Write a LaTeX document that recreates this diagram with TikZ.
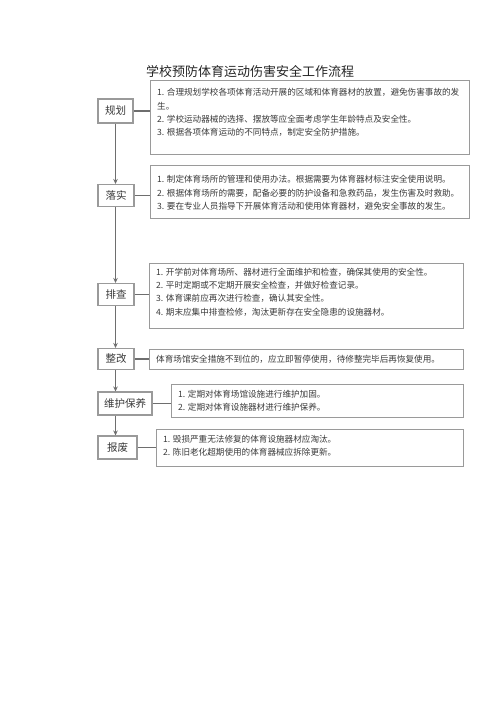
\documentclass[tikz,border=0pt]{standalone}
\usepackage{fontspec}
\setmainfont{Noto Sans CJK SC}
\usetikzlibrary{arrows.meta,calc}
\definecolor{lnc}{HTML}{6E6E6E}
\definecolor{bdc}{HTML}{9A9A9A}
\definecolor{txc}{HTML}{3A3A3A}
\begin{document}
\begin{tikzpicture}[x=1pt,y=1pt,
  sbox/.style={draw=bdc,line width=1.1pt,inner sep=0pt,fill=white},
  tbox/.style={draw=bdc,line width=1.1pt,inner sep=0pt,anchor=north west},
  lab/.style={font=\fontsize{10.5}{12}\selectfont,text=txc},
  txt/.style={anchor=west,inner sep=0pt,align=left,text=txc,font=\fontsize{8.6}{13.3}\selectfont},
  conn/.style={draw=lnc,line width=1.2pt},
  arr/.style={draw=lnc,line width=1.2pt,-{Stealth[length=5pt,width=4.5pt]}}]
\useasboundingbox[fill=white] (0,0) rectangle (500,-707);
% title
\node[font=\fontsize{13}{15}\selectfont,text=black!85,inner sep=0pt] (title) at (250,-72) {学校预防体育运动伤害安全工作流程};
% step boxes
\node[sbox,minimum width=35pt,minimum height=24pt,lab] (gh) at (115.5,-111) {规划};
\node[sbox,minimum width=36pt,minimum height=22pt,lab] (ls) at (116,-195.5) {落实};
\node[sbox,minimum width=36pt,minimum height=22pt,lab] (pc) at (116,-294.5) {排查};
\node[sbox,minimum width=36pt,minimum height=21pt,lab] (zg) at (116,-359) {整改};
\node[sbox,minimum width=54pt,minimum height=23pt,lab] (wh) at (125,-403.5) {维护保养};
\node[sbox,minimum width=39pt,minimum height=23pt,lab] (bf) at (117.5,-447.5) {报废};
% text boxes
\node[tbox,minimum width=319pt,minimum height=74pt] (t1) at (150,-80) {};
\node[tbox,minimum width=319pt,minimum height=53pt] (t2) at (150,-165) {};
\node[tbox,minimum width=314pt,minimum height=65pt] (t3) at (149,-263) {};
\node[tbox,minimum width=314pt,minimum height=20pt] (t4) at (149,-349) {};
\node[tbox,minimum width=292pt,minimum height=33pt] (t5) at (171,-384) {};
\node[tbox,minimum width=307pt,minimum height=37pt] (t6) at (156,-429) {};
% texts
\node[txt] (x1) at (157,-112.5) {1. 合理规划学校各项体育活动开展的区域和体育器材的放置，避免伤害事故的发\\生。\\2. 学校运动器械的选择、摆放等应全面考虑学生年龄特点及安全性。\\3. 根据各项体育运动的不同特点，制定安全防护措施。};
\node[txt] (x2) at (157,-193) {1. 制定体育场所的管理和使用办法。根据需要为体育器材标注安全使用说明。\\2. 根据体育场所的需要，配备必要的防护设备和急救药品，发生伤害及时救助。\\3. 要在专业人员指导下开展体育活动和使用体育器材，避免安全事故的发生。};
\node[txt] (x3) at (156,-292) {1. 开学前对体育场所、器材进行全面维护和检查，确保其使用的安全性。\\2. 平时定期或不定期开展安全检查，并做好检查记录。\\3. 体育课前应再次进行检查，确认其安全性。\\4. 期末应集中排查检修，淘汰更新存在安全隐患的设施器材。};
\node[txt] (x4) at (156,-359) {体育场馆安全措施不到位的，应立即暂停使用，待修整完毕后再恢复使用。};
\node[txt] (x5) at (178,-401) {1. 定期对体育场馆设施进行维护加固。\\2. 定期对体育设施器材进行维护保养。};
\node[txt] (x6) at (163,-446) {1. 毁损严重无法修复的体育设施器材应淘汰。\\2. 陈旧老化超期使用的体育器械应拆除更新。};
% horizontal connectors
\draw[conn] (gh.east) -- (gh.east -| t1.west);
\draw[conn] (ls.east) -- (ls.east -| t2.west);
\draw[conn] (pc.east) -- (pc.east -| t3.west);
\draw[conn] (zg.east) -- (zg.east -| t4.west);
\draw[conn] (wh.east) -- (wh.east -| t5.west);
\draw[conn] (bf.east) -- (bf.east -| t6.west);
% vertical arrows
\coordinate (col) at (115.5,0);
\draw[arr] (gh.south -| col) -- (ls.north -| col);
\draw[arr] (ls.south -| col) -- (pc.north -| col);
\draw[arr] (pc.south -| col) -- (zg.north -| col);
\draw[arr] (zg.south -| col) -- (wh.north -| col);
\draw[arr] (wh.south -| col) -- (bf.north -| col);
\end{tikzpicture}
\end{document}
